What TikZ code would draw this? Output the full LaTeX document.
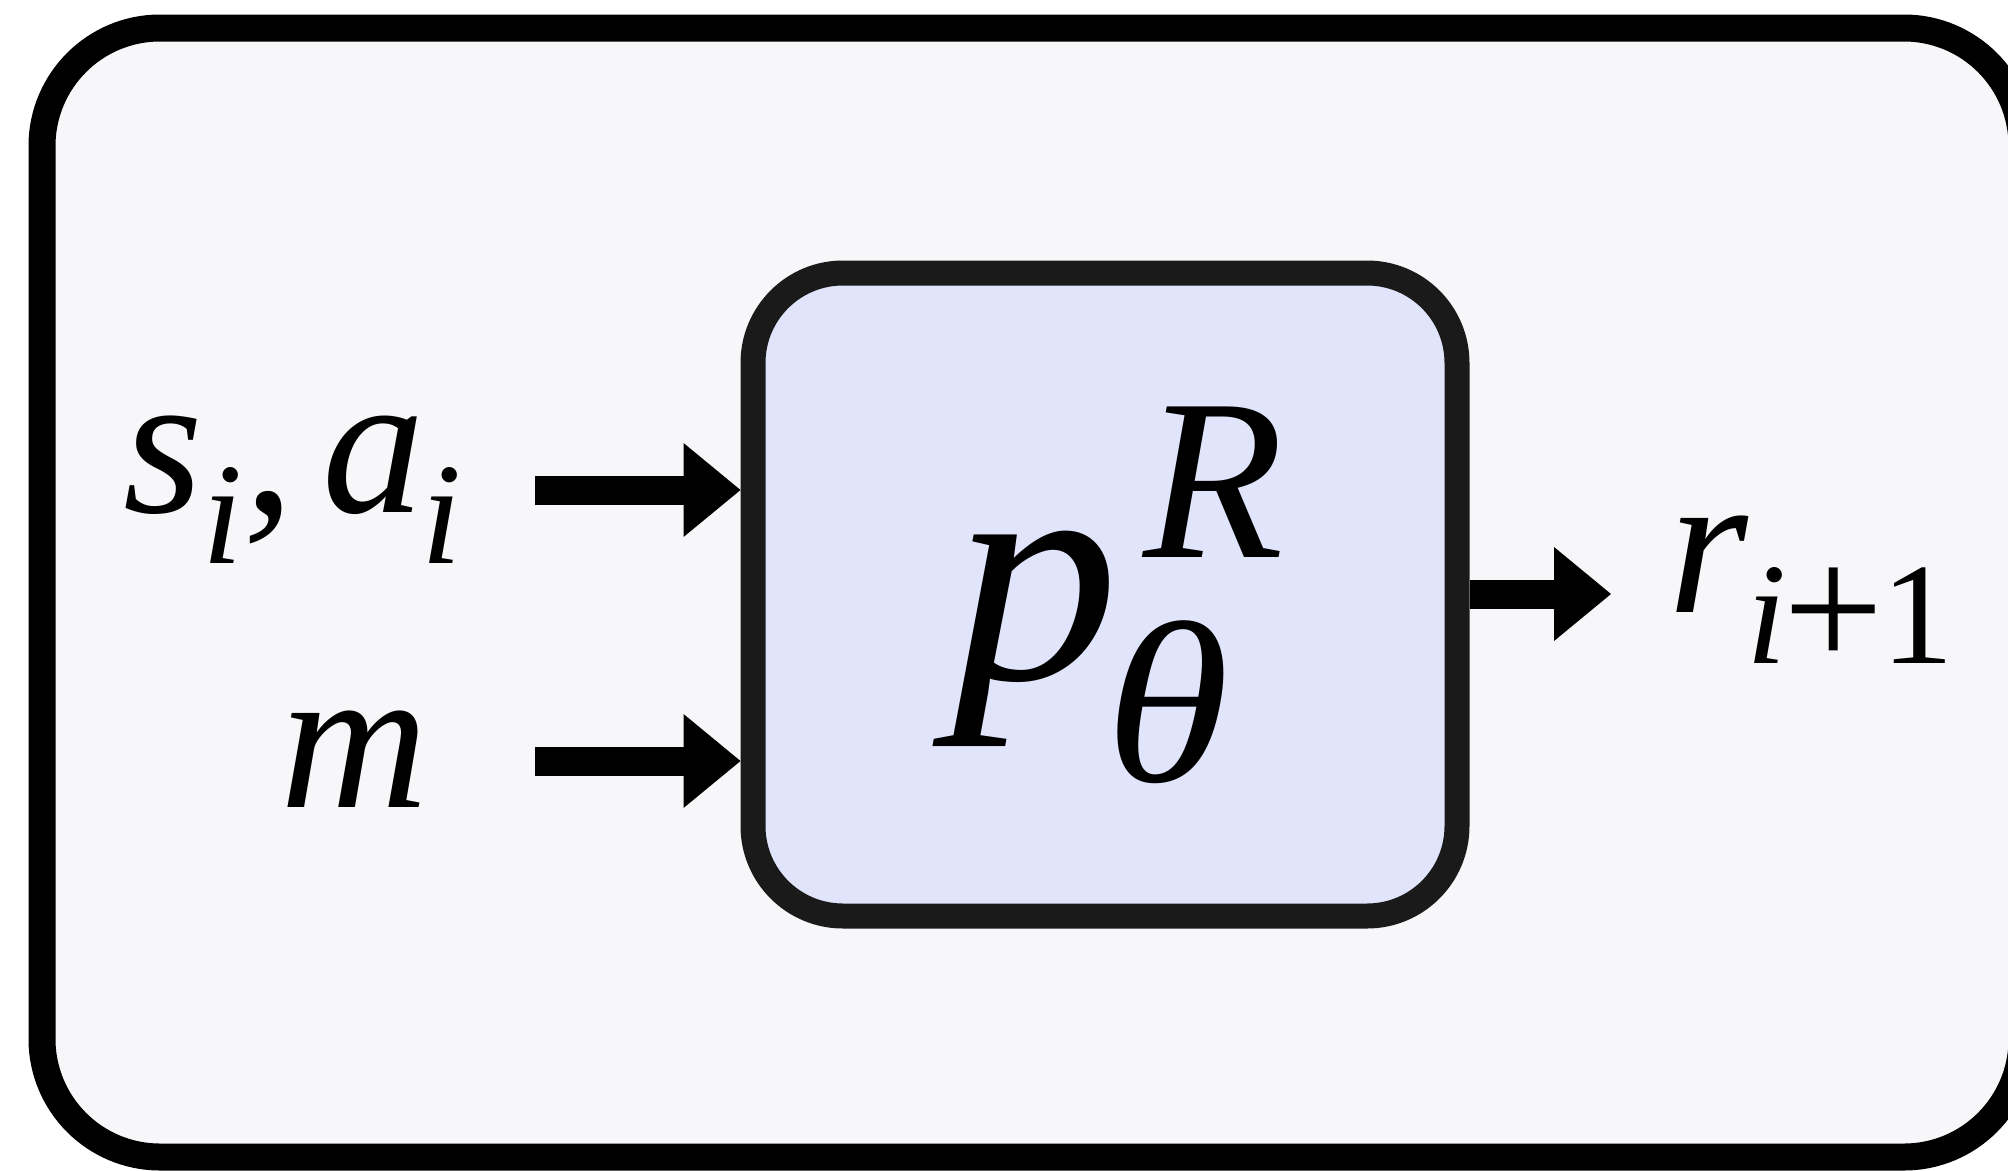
\documentclass[tikz,border=0pt]{standalone}
\usepackage{fontspec}
\setmainfont{Liberation Serif}
\usetikzlibrary{arrows.meta}
\definecolor{framefill}{HTML}{F7F7F9}
\definecolor{boxfill}{HTML}{E0E5FC}
\definecolor{boxline}{HTML}{1A1A1A}
\newcommand\lblfont{\fontsize{205pt}{205pt}\selectfont\itshape}
\newcommand\lsub[1]{\raisebox{-51pt}{\fontsize{145pt}{145pt}\selectfont #1}}
\newcommand\bigplus{{\upshape\fontsize{178pt}{178pt}\selectfont\raisebox{-5pt}{+}}}
\tikzset{
  framebox/.style={draw=black, line width=27pt, fill=framefill, rounded corners=118pt,
    minimum width=1980pt, minimum height=1129pt, inner sep=0pt},
  modelbox/.style={draw=boxline, line width=25pt, fill=boxfill, rounded corners=90pt,
    minimum width=704pt, minimum height=643pt, inner sep=0pt},
  lbl/.style={anchor=base west, inner sep=0pt, outer sep=0pt, font=\lblfont},
  conn/.style={draw=black, line width=29pt, line cap=butt,
    -{Triangle[length=57pt,width=94pt,line width=0pt]}},
}
\begin{document}
\begin{tikzpicture}[x=1pt,y=-1pt]
\useasboundingbox (0,0) rectangle (2008,1170);
\clip (0,0) rectangle (2008,1170);
\fill[white] (0,0) rectangle (2008,1170);
\node[framebox] (frame) at (1032,592.5) {};
\node[modelbox] (model) at (1105,594.5) {};
\node[anchor=base west, inner sep=0pt] (formula) at (952,679)
  {\fontsize{315pt}{315pt}\selectfont\itshape\scalebox{1.06}[1]{p}\hspace{-14pt}\rlap{\hspace{38pt}\raisebox{122pt}{\fontsize{230pt}{230pt}\selectfont R}}\raisebox{-102pt}{\fontsize{230pt}{230pt}\selectfont\scalebox{1.1}[1]{θ}}};
\node[lbl] (sa) at (123,512) {s\lsub{i},\hspace{28pt}a\hspace{-3pt}\lsub{i}};
\node[lbl] (m) at (280,807) {m};
\node[lbl] (r) at (1668,612) {r\hspace{-1pt}\lsub{i\hspace{-4pt}\bigplus\hspace{-2pt}\upshape 1}};
\coordinate (in1) at (535,490);
\coordinate (in2) at (535,761);
\coordinate (out) at (1611,594);
\draw[conn] (in1) -- (in1 -| model.west);
\draw[conn] (in2) -- (in2 -| model.west);
\draw[conn] (model.east |- out) -- (out);
\end{tikzpicture}
\end{document}
